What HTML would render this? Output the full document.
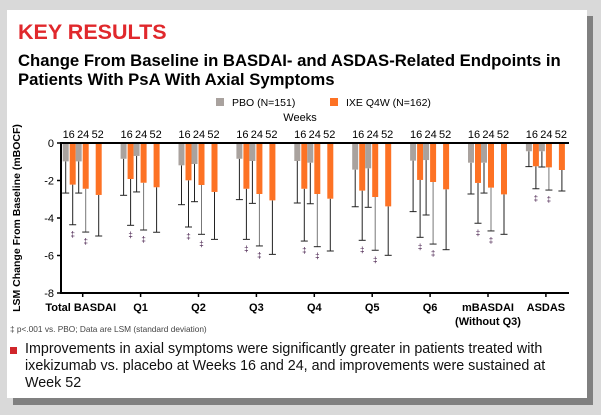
<!DOCTYPE html>
<html><head><meta charset="utf-8"><style>
body{margin:0;width:601px;height:415px;background:#d9d9d9;font-family:"Liberation Sans",Arial,sans-serif;position:relative;overflow:hidden}
.shadow{position:absolute;left:13px;top:16px;width:580px;height:389px;background:#808080}
.panel{position:absolute;left:7px;top:10px;width:580px;height:388px;background:#fff}
.t{position:absolute;white-space:nowrap}
</style></head><body>
<div class="shadow"></div>
<div class="panel"></div>
<div class="t" style="left:18px;top:20px;font-size:21.5px;font-weight:bold;color:#e0282c">KEY RESULTS</div>
<div class="t" style="left:18px;top:51px;font-size:16.7px;font-weight:bold;color:#000;line-height:19px">Change From Baseline in BASDAI- and ASDAS-Related Endpoints in<br>Patients With PsA With Axial Symptoms</div>
<svg width="601" height="415" style="position:absolute;left:0;top:0" font-family="Liberation Sans, Arial, sans-serif">
<g id="g"></g>
</svg>
<div class="t" style="left:10px;top:324px;font-size:8.3px;color:#444">‡ p&lt;.001 vs. PBO; Data are LSM (standard deviation)</div>
<div style="position:absolute;left:10px;top:347px;width:7px;height:7px;background:#d0262b"></div>
<div class="t" style="left:25px;top:341px;font-size:14.3px;line-height:17px;color:#111">Improvements in axial symptoms were significantly greater in patients treated with<br>ixekizumab vs. placebo at Weeks 16 and 24, and improvements were sustained at<br>Week 52</div>
<script>
const categories=["Total BASDAI","Q1","Q2","Q3","Q4","Q5","Q6","mBASDAI|(Without Q3)","ASDAS"];
const pbo16=[-0.98,-0.84,-1.19,-0.84,-0.96,-1.42,-0.94,-1.05,-0.44];
const pbo16sd=[-2.67,-2.79,-3.29,-3.02,-3.2,-3.40,-3.66,-2.72,-1.26];
const ixe16=[-2.22,-1.92,-1.99,-2.44,-2.44,-2.54,-1.97,-2.13,-1.24];
const ixe16sd=[-4.36,-4.39,-4.48,-5.14,-5.23,-5.19,-5.03,-4.28,-2.44];
const pbo24=[-0.98,-0.69,-1.12,-0.96,-1.05,-1.35,-0.91,-1.05,-0.44];
const pbo24sd=[-2.67,-2.61,-3.13,-3.22,-3.24,-3.43,-3.84,-2.67,-1.28];
const ixe24=[-2.44,-2.12,-2.24,-2.72,-2.72,-2.88,-2.08,-2.38,-1.30];
const ixe24sd=[-4.75,-4.64,-4.87,-5.49,-5.53,-5.72,-5.39,-4.69,-2.51];
const ixe52=[-2.77,-2.36,-2.61,-3.06,-2.97,-3.38,-2.47,-2.74,-1.44];
const ixe52sd=[-4.96,-4.76,-5.14,-5.94,-5.76,-5.99,-5.69,-4.87,-2.56];
const yTicks=[0,-2,-4,-6,-8];
const weekLabels=["16","24","52"];

const NS="http://www.w3.org/2000/svg";
const g=document.getElementById('g');
const y=v=>143+(-v)*18.75;
const cx=i=>82.7+i*57.9;
function el(t,a,txt){const e=document.createElementNS(NS,t);for(const k in a)e.setAttribute(k,a[k]);if(txt!==undefined)e.textContent=txt;g.appendChild(e);return e;}
let ax=el('line',{x1:61,y1:y(0)-1,x2:61,y2:y(-8),stroke:'#000','stroke-width':2});


yTicks.forEach(t=>{
  let l=el('line',{x1:57,x2:61,y1:y(t),y2:y(t),stroke:'#000','stroke-width':1.5});
  
  
  let tx=el('text',{x:54,y:y(t)+4,'font-size':11,'text-anchor':'end'},String(t));
  
  
});
let yt=el('text',{x:0,y:0,'font-size':10.5,'font-weight':'bold',transform:'translate(20,218) rotate(-90)','text-anchor':'middle'},'LSM Change From Baseline (mBOCF)');


let bx=el('line',{x1:60,x2:569,y1:y(-8),y2:y(-8),stroke:'#000','stroke-width':2});


const series=[[pbo16,pbo16sd,-20,'#a9a29e','pbo-16'],[ixe16,ixe16sd,-13,'#fd7224','ixe-16'],[pbo24,pbo24sd,-7,'#a9a29e','pbo-24'],[ixe24,ixe24sd,0,'#fd7224','ixe-24'],[ixe52,ixe52sd,13,'#fd7224','ixe-52']];
categories.forEach((c,i)=>{
  const x=cx(i);
  series.forEach(([v,sd,off,col,nm],si)=>{
    const bx0=x+off, mid=bx0+3;
    let ln=el('line',{x1:mid,x2:mid,y1:y(v[i]),y2:y(sd[i]),stroke:(si==3?'#777':'#222'),'stroke-width':1});
    
    
    let cap=el('line',{x1:mid-3.5,x2:mid+3.5,y1:y(sd[i]),y2:y(sd[i]),stroke:'#222','stroke-width':1});
    
    
    let r=el('rect',{x:bx0,y:y(0),width:6,height:y(v[i])-y(0),fill:col});
    
    
    if(si==1||si==3){
      let d=el('text',{x:mid,y:y(sd[i])+12,'font-size':8,'text-anchor':'middle',fill:'#3a1040'},'‡');
      
      
    }
  });
  weekLabels.forEach((w,k)=>{
    let t=el('text',{x:x-14+k*14.5,y:138,'font-size':11,'text-anchor':'middle'},w);
    
    
  });
  let tk=el('line',{x1:x,x2:x,y1:y(-8),y2:y(-8)+4,stroke:'#000','stroke-width':1.5});
  
  
  c.split('|').forEach((p,k)=>{
    let t=el('text',{x:x+(i==0?-2:0),y:311+k*14,'font-size':11,'font-weight':'bold','text-anchor':'middle'},p);
    
    
  });
});
let zl=el('line',{x1:61,x2:569,y1:y(0),y2:y(0),stroke:'#000','stroke-width':2});


let wk=el('text',{x:300,y:121,'font-size':11,'text-anchor':'middle'},'Weeks');


let l1=el('rect',{x:216,y:98,width:8,height:8,fill:'#a9a29e'});


let l1t=el('text',{x:232,y:106,'font-size':10.5},'PBO (N=151)');


let l2=el('rect',{x:330,y:98,width:8,height:8,fill:'#fd7224'});


let l2t=el('text',{x:346,y:106,'font-size':10.5},'IXE Q4W (N=162)');


</script>
</body></html>
